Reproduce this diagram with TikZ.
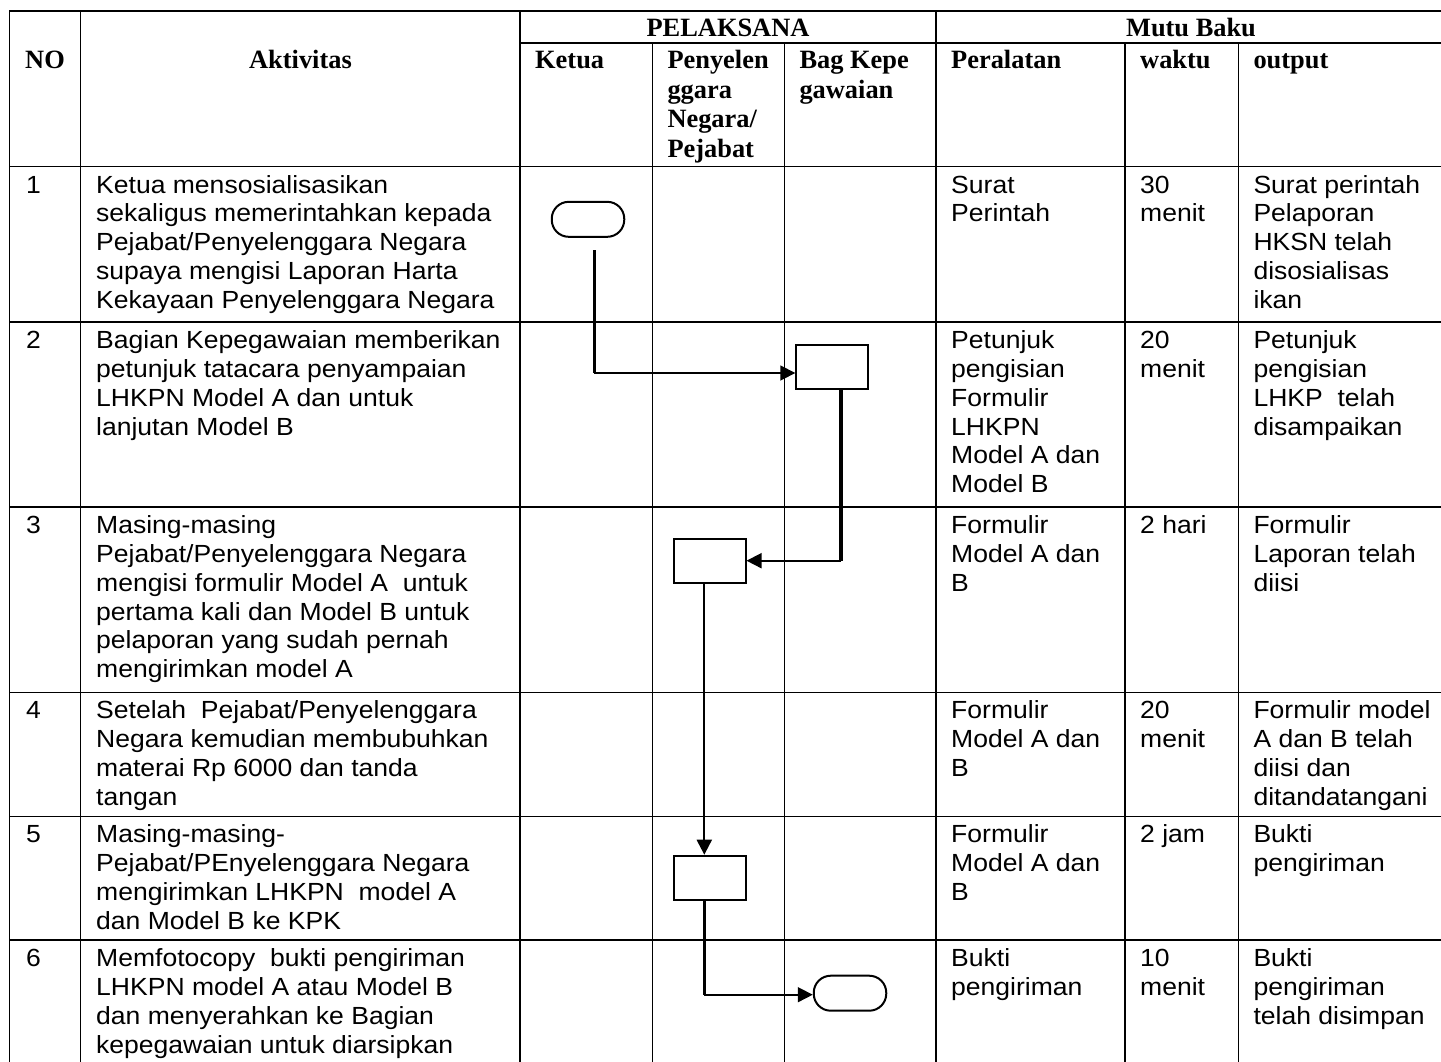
\documentclass[tikz,border=0pt]{standalone}
\usepackage{fontspec}
\setmainfont{Liberation Sans}[FakeStretch=1.07]
\newfontfamily\hdrfont{Liberation Serif}
\usetikzlibrary{arrows.meta}
\newcommand\bodyfont{\fontsize{24.8}{28.9}\selectfont}
\newcommand\headfont{\hdrfont\bfseries\fontsize{26.4}{29.6}\selectfont}
\newcommand\ml[1]{\parbox[t]{600pt}{\raggedright #1}}
\tikzset{
  gridline/.style={line width=1.3pt, draw=black},
  txt/.style={anchor=base west, inner sep=0pt, font=\bodyfont},
  htxt/.style={anchor=base west, inner sep=0pt, font=\headfont},
  hctr/.style={anchor=base, inner sep=0pt, font=\headfont},
  procbox/.style={draw, line width=2pt, minimum width=72pt, minimum height=44pt, inner sep=0pt},
  termbox/.style={draw, line width=2pt, minimum width=72.5pt, minimum height=35pt, inner sep=0pt, rounded corners=17pt},
  vthick/.style={line width=3.6pt},
  vmed/.style={line width=2.2pt, -{Triangle[length=15pt,width=15pt]}},
  harrow/.style={line width=1.7pt, -{Triangle[length=15pt,width=15pt]}},
}
\begin{document}
\begin{tikzpicture}[x=1pt,y=-1pt]
\useasboundingbox (0,0) rectangle (1441,1061);
\fill[white] (0,0) rectangle (1441,1061);
% ---------- grid ----------
\draw[gridline] (9.3,11) -- (1446,11);
\draw[gridline] (520,43) -- (1446,43);
\foreach \yy in {166.7,322,507,692.3,816.3,940}
  \draw[gridline] (9.3,\yy) -- (1446,\yy);
\foreach \xx in {9.3,80.7,520,936,1446}
  \draw[gridline] (\xx,11) -- (\xx,1062);
\foreach \xx in {652.3,784.7,1125,1238.3}
  \draw[gridline] (\xx,43) -- (\xx,1062);
% ---------- header ----------
\node[hctr] (hno) at (45,68.5) {NO};
\node[hctr] (hakt) at (300.5,68.5) {Aktivitas};
\node[hctr] (hpel) at (728,36.7) {PELAKSANA};
\node[hctr] (hmutu) at (1191,36.7) {Mutu Baku};
\node[htxt] (hket) at (535,68.5) {Ketua};
\node[htxt] (hpeny) at (667.3,68.5) {\ml{Penyelen\\ggara\\Negara/\\Pejabat}};
\node[htxt] (hbag) at (799.3,68.5) {\ml{Bag Kepe\\gawaian}};
\node[htxt] (hper) at (951,68.5) {Peralatan};
\node[htxt] (hwak) at (1140,68.5) {waktu};
\node[htxt] (hout) at (1253.3,68.5) {output};
% ---------- row 1 ----------
\node[txt] (n1) at (26,193) {1};
\node[txt] (a1) at (96,193) {\ml{Ketua mensosialisasikan\\sekaligus memerintahkan kepada\\Pejabat/Penyelenggara Negara\\supaya mengisi Laporan Harta\\Kekayaan Penyelenggara Negara}};
\node[txt] (p1) at (951,193) {\ml{Surat\\Perintah}};
\node[txt] (w1) at (1140,193) {\ml{30\\menit}};
\node[txt] (o1) at (1253.3,193) {\ml{Surat perintah\\Pelaporan\\HKSN telah\\disosialisas\\ikan}};
% ---------- row 2 ----------
\node[txt] (n2) at (26,348.3) {2};
\node[txt] (a2) at (96,348.3) {\ml{Bagian Kepegawaian memberikan\\petunjuk tatacara penyampaian\\LHKPN Model A dan untuk\\lanjutan Model B}};
\node[txt] (p2) at (951,348.3) {\ml{Petunjuk\\pengisian\\Formulir\\LHKPN\\Model A dan\\Model B}};
\node[txt] (w2) at (1140,348.3) {\ml{20\\menit}};
\node[txt] (o2) at (1253.3,348.3) {\ml{Petunjuk\\pengisian\\LHKP\ \ telah\\disampaikan}};
% ---------- row 3 ----------
\node[txt] (n3) at (26,533.3) {3};
\node[txt] (a3) at (96,533.3) {\ml{Masing-masing\\Pejabat/Penyelenggara Negara\\mengisi formulir Model A\ \ untuk\\pertama kali dan Model B untuk\\pelaporan yang sudah pernah\\mengirimkan model A}};
\node[txt] (p3) at (951,533.3) {\ml{Formulir\\Model A dan\\B}};
\node[txt] (w3) at (1140,533.3) {2 hari};
\node[txt] (o3) at (1253.3,533.3) {\ml{Formulir\\Laporan telah\\diisi}};
% ---------- row 4 ----------
\node[txt] (n4) at (26,718.6) {4};
\node[txt] (a4) at (96,718.6) {\ml{Setelah\ \ Pejabat/Penyelenggara\\Negara kemudian membubuhkan\\materai Rp 6000 dan tanda\\tangan}};
\node[txt] (p4) at (951,718.6) {\ml{Formulir\\Model A dan\\B}};
\node[txt] (w4) at (1140,718.6) {\ml{20\\menit}};
\node[txt] (o4) at (1253.3,718.6) {\ml{Formulir model\\A dan B telah\\diisi dan\\ditandatangani}};
% ---------- row 5 ----------
\node[txt] (n5) at (26,842.6) {5};
\node[txt] (a5) at (96,842.6) {\ml{Masing-masing-\\Pejabat/PEnyelenggara Negara\\mengirimkan LHKPN\ \ model A\\dan Model B ke KPK}};
\node[txt] (p5) at (951,842.6) {\ml{Formulir\\Model A dan\\B}};
\node[txt] (w5) at (1140,842.6) {2 jam};
\node[txt] (o5) at (1253.3,842.6) {\ml{Bukti\\pengiriman}};
% ---------- row 6 ----------
\node[txt] (n6) at (26,966.3) {6};
\node[txt] (a6) at (96,966.3) {\ml{Memfotocopy\ \ bukti pengiriman\\LHKPN model A atau Model B\\dan menyerahkan ke Bagian\\kepegawaian untuk diarsipkan}};
\node[txt] (p6) at (951,966.3) {\ml{Bukti\\pengiriman}};
\node[txt] (w6) at (1140,966.3) {\ml{10\\menit}};
\node[txt] (o6) at (1253.3,966.3) {\ml{Bukti\\pengiriman\\telah disimpan}};
% ---------- flow shapes ----------
\node[termbox] (t1) at (588,219.3) {};
\node[procbox] (b2) at (832.3,367.2) {};
\node[procbox] (b3) at (709.5,561.3) {};
\node[procbox] (b5) at (709.5,877.7) {};
\node[termbox] (t6) at (850,993.2) {};
% ---------- connectors ----------
\coordinate (c1a) at (594.3,250);
\coordinate (c1b) at (594.3,373);
\draw[vthick] (c1a) -- (c1b);
\draw[harrow] (c1b) -- (c1b -| b2.west);
\coordinate (c2) at (841,560.7);
\draw[vthick] (b2.south -| c2) -- (c2);
\draw[harrow] (c2) -- (c2 -| b3.east);
\coordinate (c3) at (704.3,700);
\draw[vmed] (b3.south -| c3) -- (b5.north -| c3);
\coordinate (c5) at (704.3,994.7);
\draw[vthick] (b5.south -| c5) -- (c5);
\draw[harrow] (c5) -- (c5 -| t6.west);
\end{tikzpicture}
\end{document}
